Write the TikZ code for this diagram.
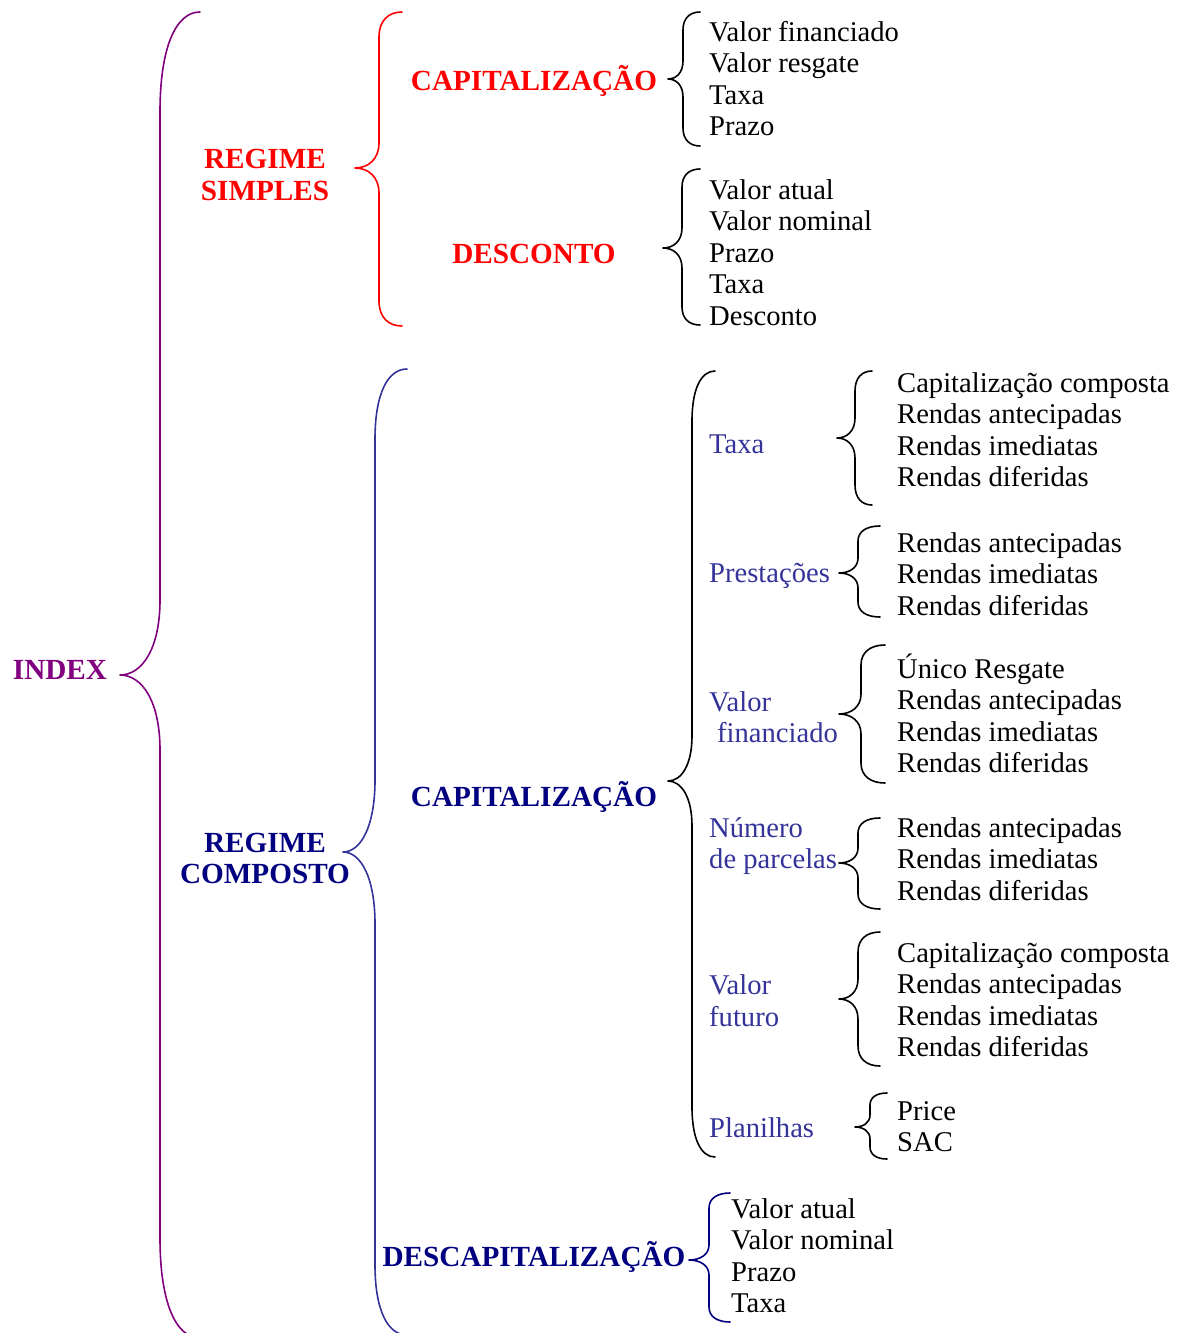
\documentclass[tikz,border=0pt]{standalone}
\usepackage{fontspec}
\setmainfont{Liberation Serif}
\definecolor{idxpurple}{RGB}{128,0,128}
\definecolor{simred}{RGB}{255,0,0}
\definecolor{navyc}{RGB}{0,0,128}
\definecolor{lblue}{RGB}{51,51,153}
\tikzset{
  lbl/.style={anchor=base, inner sep=0pt, font=\fontsize{29.2}{32}\selectfont\bfseries},
  sub/.style={anchor=base west, inner sep=0pt, text=lblue, font=\fontsize{28.6}{32}\selectfont},
  itm/.style={anchor=base west, inner sep=0pt, font=\fontsize{28.6}{32}\selectfont},
  brc/.style={line width=1.6pt, line join=round, line cap=round}
}
% #1 colour, #2 xtip, #3 ytip, #4 xline, #5 xend, #6 ytop, #7 ybot, #8 end-curl height, #9 tip-curve height
\newcommand\wbrace[9]{%
  \draw[brc, #1] (#5,#6)
    .. controls ({#5-0.6*(#5-#4)},#6) and (#4,{#6+0.35*#8}) .. (#4,{#6+#8})
    -- (#4,{#3-#9})
    .. controls (#4,{#3-0.35*#9}) and ({#4-0.45*(#4-#2)},#3) .. (#2,#3)
    .. controls ({#4-0.45*(#4-#2)},#3) and (#4,{#3+0.35*#9}) .. (#4,{#3+#9})
    -- (#4,{#7-#8})
    .. controls (#4,{#7-0.35*#8}) and ({#5-0.6*(#5-#4)},#7) .. (#5,#7);}
\newcommand\itemlist[4]{%
  \foreach \t [count=\i] in {#4}
    \node[itm] (#1\i) at (#2,{#3+(\i-1)*31.6}) {\t};}
\begin{document}
\begin{tikzpicture}[x=1pt,y=-1pt]
\clip (0,0) rectangle (1181,1333);
\fill[white] (0,0) rectangle (1181,1333);

% main labels
\node[lbl, text=idxpurple] (index) at (60,679) {INDEX};
\node[lbl, text=simred] (rs1) at (265,168) {REGIME};
\node[lbl, text=simred] (rs2) at (265,200) {SIMPLES};
\node[lbl, text=simred] (capr) at (534,90) {CAPITALIZAÇÃO};
\node[lbl, text=simred] (desc) at (534,263) {DESCONTO};
\node[lbl, text=navyc] (rc1) at (265,852) {REGIME};
\node[lbl, text=navyc] (rc2) at (265,883) {COMPOSTO};
\node[lbl, text=navyc] (capn) at (534,806) {CAPITALIZAÇÃO};
\node[lbl, text=navyc] (descap) at (534,1266) {DESCAPITALIZAÇÃO};

% sub labels
\node[sub] (taxa) at (709,453) {Taxa};
\node[sub] (prest) at (709,582) {Prestações};
\node[sub] (vf1) at (709,711) {Valor};
\node[sub] (vf2) at (717,742) {financiado};
\node[sub] (num1) at (709,837) {Número};
\node[sub] (num2) at (709,868) {de parcelas};
\node[sub] (vfu1) at (709,994) {Valor};
\node[sub] (vfu2) at (709,1026) {futuro};
\node[sub] (plan) at (709,1137) {Planilhas};

% item lists
\itemlist{a}{709}{41}{Valor financiado,Valor resgate,Taxa,Prazo}
\itemlist{b}{709}{199}{Valor atual,Valor nominal,Prazo,Taxa,Desconto}
\itemlist{c}{897}{392}{Capitalização composta,Rendas antecipadas,Rendas imediatas,Rendas diferidas}
\itemlist{d}{897}{552}{Rendas antecipadas,Rendas imediatas,Rendas diferidas}
\itemlist{e}{897}{678}{Único Resgate,Rendas antecipadas,Rendas imediatas,Rendas diferidas}
\itemlist{f}{897}{837}{Rendas antecipadas,Rendas imediatas,Rendas diferidas}
\itemlist{g}{897}{962}{Capitalização composta,Rendas antecipadas,Rendas imediatas,Rendas diferidas}
\itemlist{h}{897}{1120}{Price,SAC}
\itemlist{k}{731}{1218}{Valor atual,Valor nominal,Prazo,Taxa}

% braces
\wbrace{idxpurple}{120}{675}{160}{200}{12}{1338}{100}{75}
\wbrace{simred}{355}{168}{379}{402}{12}{326}{25}{25}
\wbrace{lblue}{343}{852}{375}{407}{369}{1335}{70}{72}
\wbrace{black}{668}{79}{683}{700}{12}{146}{18}{18}
\wbrace{black}{663}{248}{682}{700}{169}{325}{18}{20}
\wbrace{black}{668}{781}{692}{715}{371}{1157}{50}{45}
\wbrace{black}{837}{438}{855}{872}{371}{505}{20}{20}
\wbrace{black}{839}{573}{858}{880}{526}{617}{15}{15}
\wbrace{black}{839}{714}{861}{885}{645}{783}{20}{20}
\wbrace{black}{839}{863}{858}{880}{818}{909}{15}{15}
\wbrace{black}{839}{999}{858}{880}{932}{1066}{20}{20}
\wbrace{black}{855}{1127}{870}{887}{1093}{1159}{12}{12}
\wbrace{navyc}{689}{1260}{709}{730}{1193}{1322}{15}{15}
\end{tikzpicture}
\end{document}
